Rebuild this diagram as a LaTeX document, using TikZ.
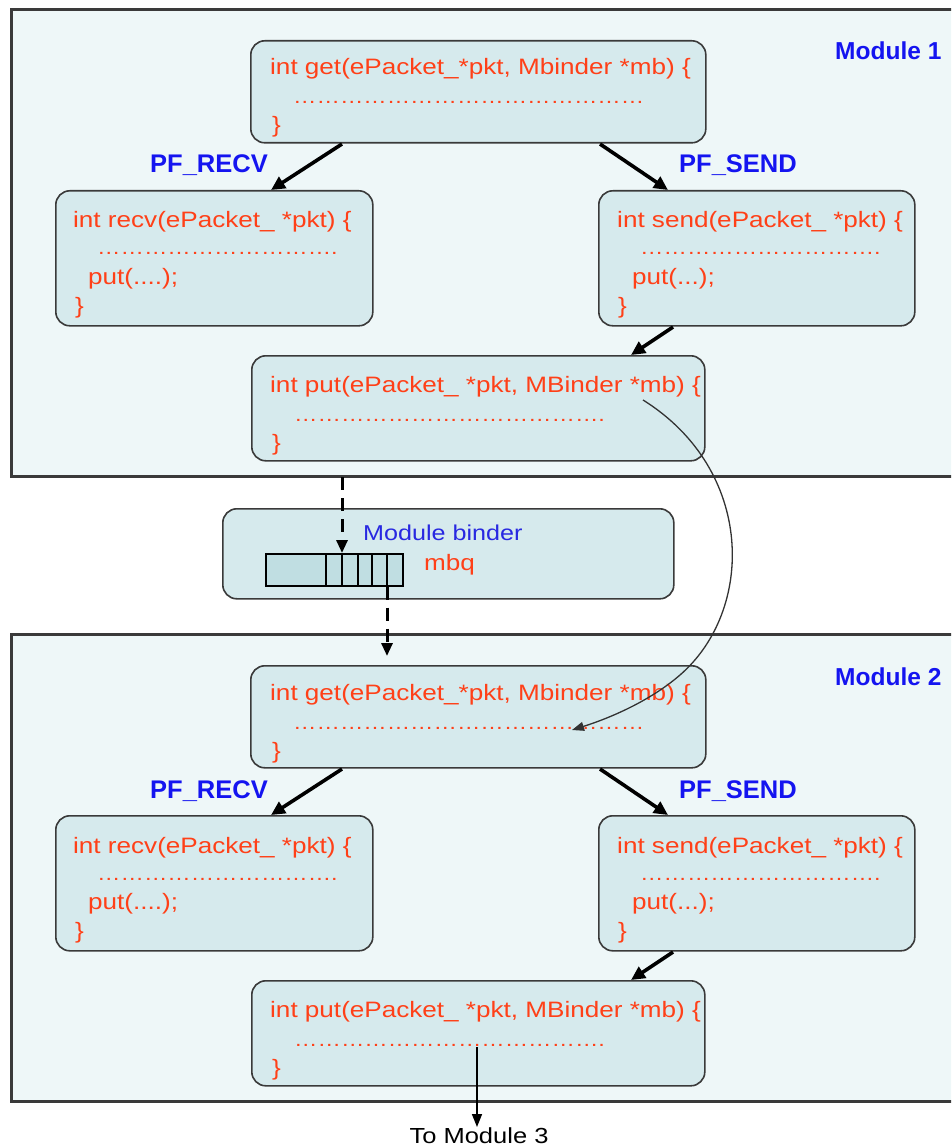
\documentclass[tikz,border=0pt]{standalone}
\usepackage{fontspec}
\setmainfont{Liberation Sans}[FakeStretch=1.17]
\newfontfamily\labelfont{Liberation Sans}
\usetikzlibrary{arrows.meta}

\definecolor{codered}{RGB}{255,64,24}
\definecolor{lblblue}{RGB}{20,20,240}
\definecolor{bindblue}{RGB}{40,40,225}
\definecolor{modfill}{RGB}{238,247,248}
\definecolor{boxfill}{RGB}{214,234,237}
\definecolor{qfill}{RGB}{192,222,226}
\definecolor{edge}{RGB}{58,58,58}

% a run of n ellipses standing for elided code
\newcommand\dotrun[1]{\foreach \i in {1,...,#1}{…}}

\tikzset{
  modbox/.style={draw=edge, line width=2.6pt, fill=modfill, anchor=north west,
    inner sep=0pt, minimum width=980pt, minimum height=467pt},
  codebox/.style={draw=edge, line width=1.6pt, fill=boxfill, rectangle,
    rounded corners=14pt, anchor=north west, inner sep=0pt},
  code/.style={text=codered, anchor=base west, inner sep=0pt,
    font=\fontsize{22.3}{26}\selectfont},
  filler/.style={code, font=\fontsize{20}{24}\selectfont},
  branch/.style={text=lblblue, anchor=base west, inner sep=0pt,
    font=\labelfont\bfseries\fontsize{25.5}{30}\selectfont},
  modlabel/.style={text=lblblue, anchor=base west, inner sep=0pt,
    font=\labelfont\bfseries\fontsize{24.5}{30}\selectfont},
  flow/.style={line width=3.6pt, -{Triangle[length=14pt,width=13pt]}},
  queueflow/.style={line width=3pt, dash pattern=on 13pt off 8pt,
    -{Triangle[length=13pt,width=11pt]}},
  jump/.style={line width=1.3pt, draw=black!80, -{Triangle[length=12pt,width=9pt]}},
  onward/.style={line width=1.6pt, -{Triangle[length=13pt,width=10pt]}},
  qbox/.style={draw=black, line width=1.5pt, fill=qfill, anchor=north west,
    inner sep=0pt, minimum width=137pt, minimum height=32pt},
}

% One module: get() dispatches to recv()/send(), which both call put()
\newcommand\drawmodule[2]{%
  \node[modbox] (mod#1) at (10,8) {};
  \node[modlabel] (modlbl#1) at (835,60) {Module #2};
  % get()
  \node[codebox, minimum width=455pt, minimum height=102pt] (get#1) at (250,40) {};
  \node[code] (get#1a) at (270,75) {int get(ePacket\_*pkt, Mbinder *mb) \{};
  \node[filler] (get#1b) at (293,104) {\dotrun{15}};
  \node[code] (get#1c) at (272,133) {\}};
  % branch labels
  \node[branch] (rl#1) at (150,173) {PF\_RECV};
  \node[branch] (sl#1) at (679,173) {PF\_SEND};
  % recv()
  \node[codebox, minimum width=317pt, minimum height=135pt] (recv#1) at (55,190) {};
  \node[code] (recv#1a) at (73,228) {int recv(ePacket\_ *pkt) \{};
  \node[filler] (recv#1b) at (97,255) {\dotrun{10}.};
  \node[code] (recv#1c) at (88,284) {put(....);};
  \node[code] (recv#1d) at (75,313) {\}};
  % send()
  \node[codebox, minimum width=316pt, minimum height=135pt] (send#1) at (598,190) {};
  \node[code] (send#1a) at (617,228) {int send(ePacket\_ *pkt) \{};
  \node[filler] (send#1b) at (640,255) {\dotrun{10}.};
  \node[code] (send#1c) at (632,284) {put(...);};
  \node[code] (send#1d) at (618,313) {\}};
  % put()
  \node[codebox, minimum width=453pt, minimum height=105pt] (put#1) at (251,355) {};
  \node[code] (put#1a) at (270,392) {int put(ePacket\_ *pkt, MBinder *mb) \{};
  \node[filler] (put#1b) at (294,421) {\dotrun{13}.};
  \node[code] (put#1c) at (272,450) {\}};
  % dispatch arrows
  \coordinate (gr#1) at (342,144);
  \coordinate (rt#1) at (271,190);
  \coordinate (gs#1) at (600,144);
  \coordinate (st#1) at (668,190);
  \coordinate (sp#1) at (673,327);
  \coordinate (pt#1) at (631,355);
  \draw[flow] (gr#1) -- (rt#1);
  \draw[flow] (gs#1) -- (st#1);
  \draw[flow] (sp#1) -- (pt#1);
}

\begin{document}
\begin{tikzpicture}[x=1pt, y=-1pt]
  \useasboundingbox (0,0) rectangle (951,1147);
  \clip (0,0) rectangle (951,1147);
  \fill[white] (0,0) rectangle (951,1147);

  % Module 1
  \drawmodule{A}{1}

  % Module 2
  \begin{scope}[yshift=-625pt]
    \drawmodule{B}{2}
  \end{scope}

  % module binder with its queue
  \node[codebox, minimum width=451pt, minimum height=90pt] (binder) at (222,508) {};
  \node[anchor=base west, inner sep=0pt, text=bindblue,
        font=\fontsize{21.5}{26}\selectfont] (binderlbl) at (363,540) {Module binder};
  \node[qbox] (mbq) at (265,553) {};
  \foreach \x in {326,342,358,372,387}
    \draw[line width=1.5pt] (\x,553) -- (\x,585);
  \node[code] (mbqlbl) at (424,570) {mbq};

  % hand-off through the queue
  \coordinate (qin) at (342,477);
  \coordinate (qout) at (387,656);
  \draw[queueflow] (qin) -- (qin |- mbq.north);
  \draw[queueflow] (mbq.south -| qout) -- (qout);

  % direct hand-off from put() of module 1 into get() of module 2
  \coordinate (jumpstart) at (643,400);
  \coordinate (jumpend) at (572,730);
  \draw[jump] (jumpstart) .. controls (755,470) and (755,610) .. (680,675)
              .. controls (650,701) and (610,718) .. (jumpend);

  % on to the next module
  \node[anchor=base, inner sep=0pt, font=\fontsize{21.8}{26}\selectfont]
        (next) at (479,1143) {To Module 3};
  \coordinate (outstart) at (477,1047);
  \draw[onward] (outstart) -- (outstart |- next.north);
\end{tikzpicture}
\end{document}
